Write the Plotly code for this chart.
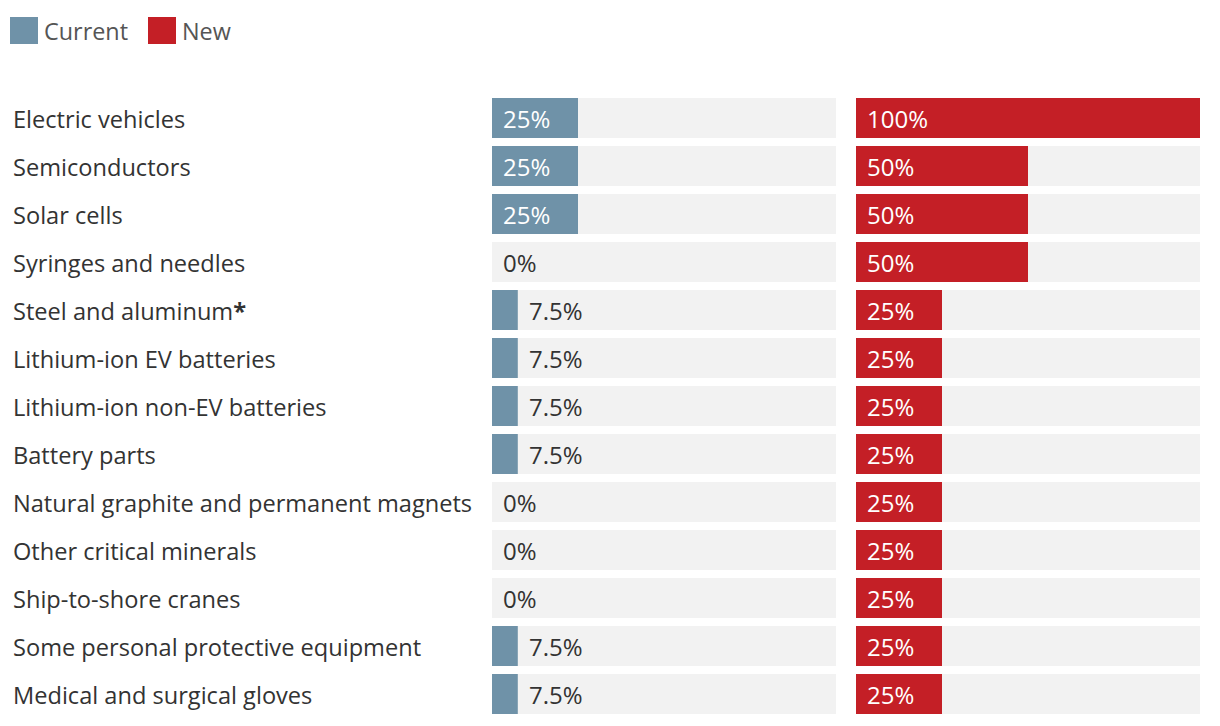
import plotly.graph_objects as go

categories = [
    "Electric vehicles", "Semiconductors", "Solar cells", "Syringes and needles",
    "Steel and aluminum*", "Lithium-ion EV batteries", "Lithium-ion non-EV batteries",
    "Battery parts", "Natural graphite and permanent magnets", "Other critical minerals",
    "Ship-to-shore cranes", "Some personal protective equipment", "Medical and surgical gloves",
]
current = [25, 25, 25, 0, 7.5, 7.5, 7.5, 7.5, 0, 0, 0, 7.5, 7.5]
new = [100, 50, 50, 50, 25, 25, 25, 25, 25, 25, 25, 25, 25]
series_names = ["Current", "New"]

C_CUR = "#6f92a8"
C_NEW = "#c41f26"
C_BG = "#f2f2f2"
FONT = "Open Sans"
OFF = 8  # page body offset
W, H = 1220 - OFF, 726 - OFF
ML, MR, MT, MB = 0, 20, 94 - OFF, 8
PW = W - ML - MR
PH = H - MT - MB

def px(x):
    return (x - OFF) / PW

def py(y):
    return 1 + (94 - y) / PH

y_idx = list(range(len(categories)))

fig = go.Figure()
for vals, color, xa in [(current, C_CUR, "x"), (new, C_NEW, "x2")]:
    fig.add_trace(go.Bar(y=y_idx, x=[100] * len(vals), orientation="h", marker_color=C_BG,
                         marker_line_width=0, xaxis=xa, yaxis="y", showlegend=False, hoverinfo="skip"))
    fig.add_trace(go.Bar(y=y_idx, x=vals, orientation="h", marker_color=color,
                         marker_line_width=0, xaxis=xa, yaxis="y", showlegend=False))

def fmt(v):
    return f"{v:g}%"

ann = []
for i, cat in enumerate(categories):
    label = cat
    if cat.endswith("*"):
        label = cat[:-1] + "<b>*</b>"
    ann.append(dict(x=px(11), xref="paper", y=i, yref="y", text=label, showarrow=False,
                    xanchor="left", yanchor="middle", yshift=-1,
                    font=dict(family=FONT, size=23.6, color="#333333")))
    for vals, xr in [(current, "x"), (new, "x2")]:
        v = vals[i]
        inside = v >= 20
        ann.append(dict(x=0 if inside else v, xref=xr, y=i, yref="y", text=fmt(v), showarrow=False,
                        xanchor="left", yanchor="middle", xshift=9,
                        font=dict(family=FONT, size=24, color="white" if inside else "#333333")))

# legend
shapes = []
for name, color, x0, tx in [(series_names[0], C_CUR, 10, 42), (series_names[1], C_NEW, 148, 180)]:
    shapes.append(dict(type="rect", xref="paper", yref="paper",
                       x0=px(x0), x1=px(x0 + 28),
                       y0=py(44), y1=py(17),
                       fillcolor=color, line_width=0))
    ann.append(dict(x=px(tx), xref="paper", y=py(31), yref="paper", text=name,
                    showarrow=False, xanchor="left", yanchor="middle",
                    font=dict(family=FONT, size=23.4, color="#555555")))

fig.update_layout(
    width=W, height=H, margin=dict(l=ML, r=MR, t=MT, b=MB),
    paper_bgcolor="white", plot_bgcolor="white",
    barmode="overlay", bargap=8 / 48,
    xaxis=dict(domain=[px(492), px(836)], range=[0, 100], visible=False, fixedrange=True),
    xaxis2=dict(domain=[px(856), 1.0], range=[0, 100], visible=False, fixedrange=True),
    yaxis=dict(range=[len(categories) - 0.5, -0.5], visible=False, fixedrange=True),
    annotations=ann, shapes=shapes, showlegend=False,
)

fig.write_html("out.html")
